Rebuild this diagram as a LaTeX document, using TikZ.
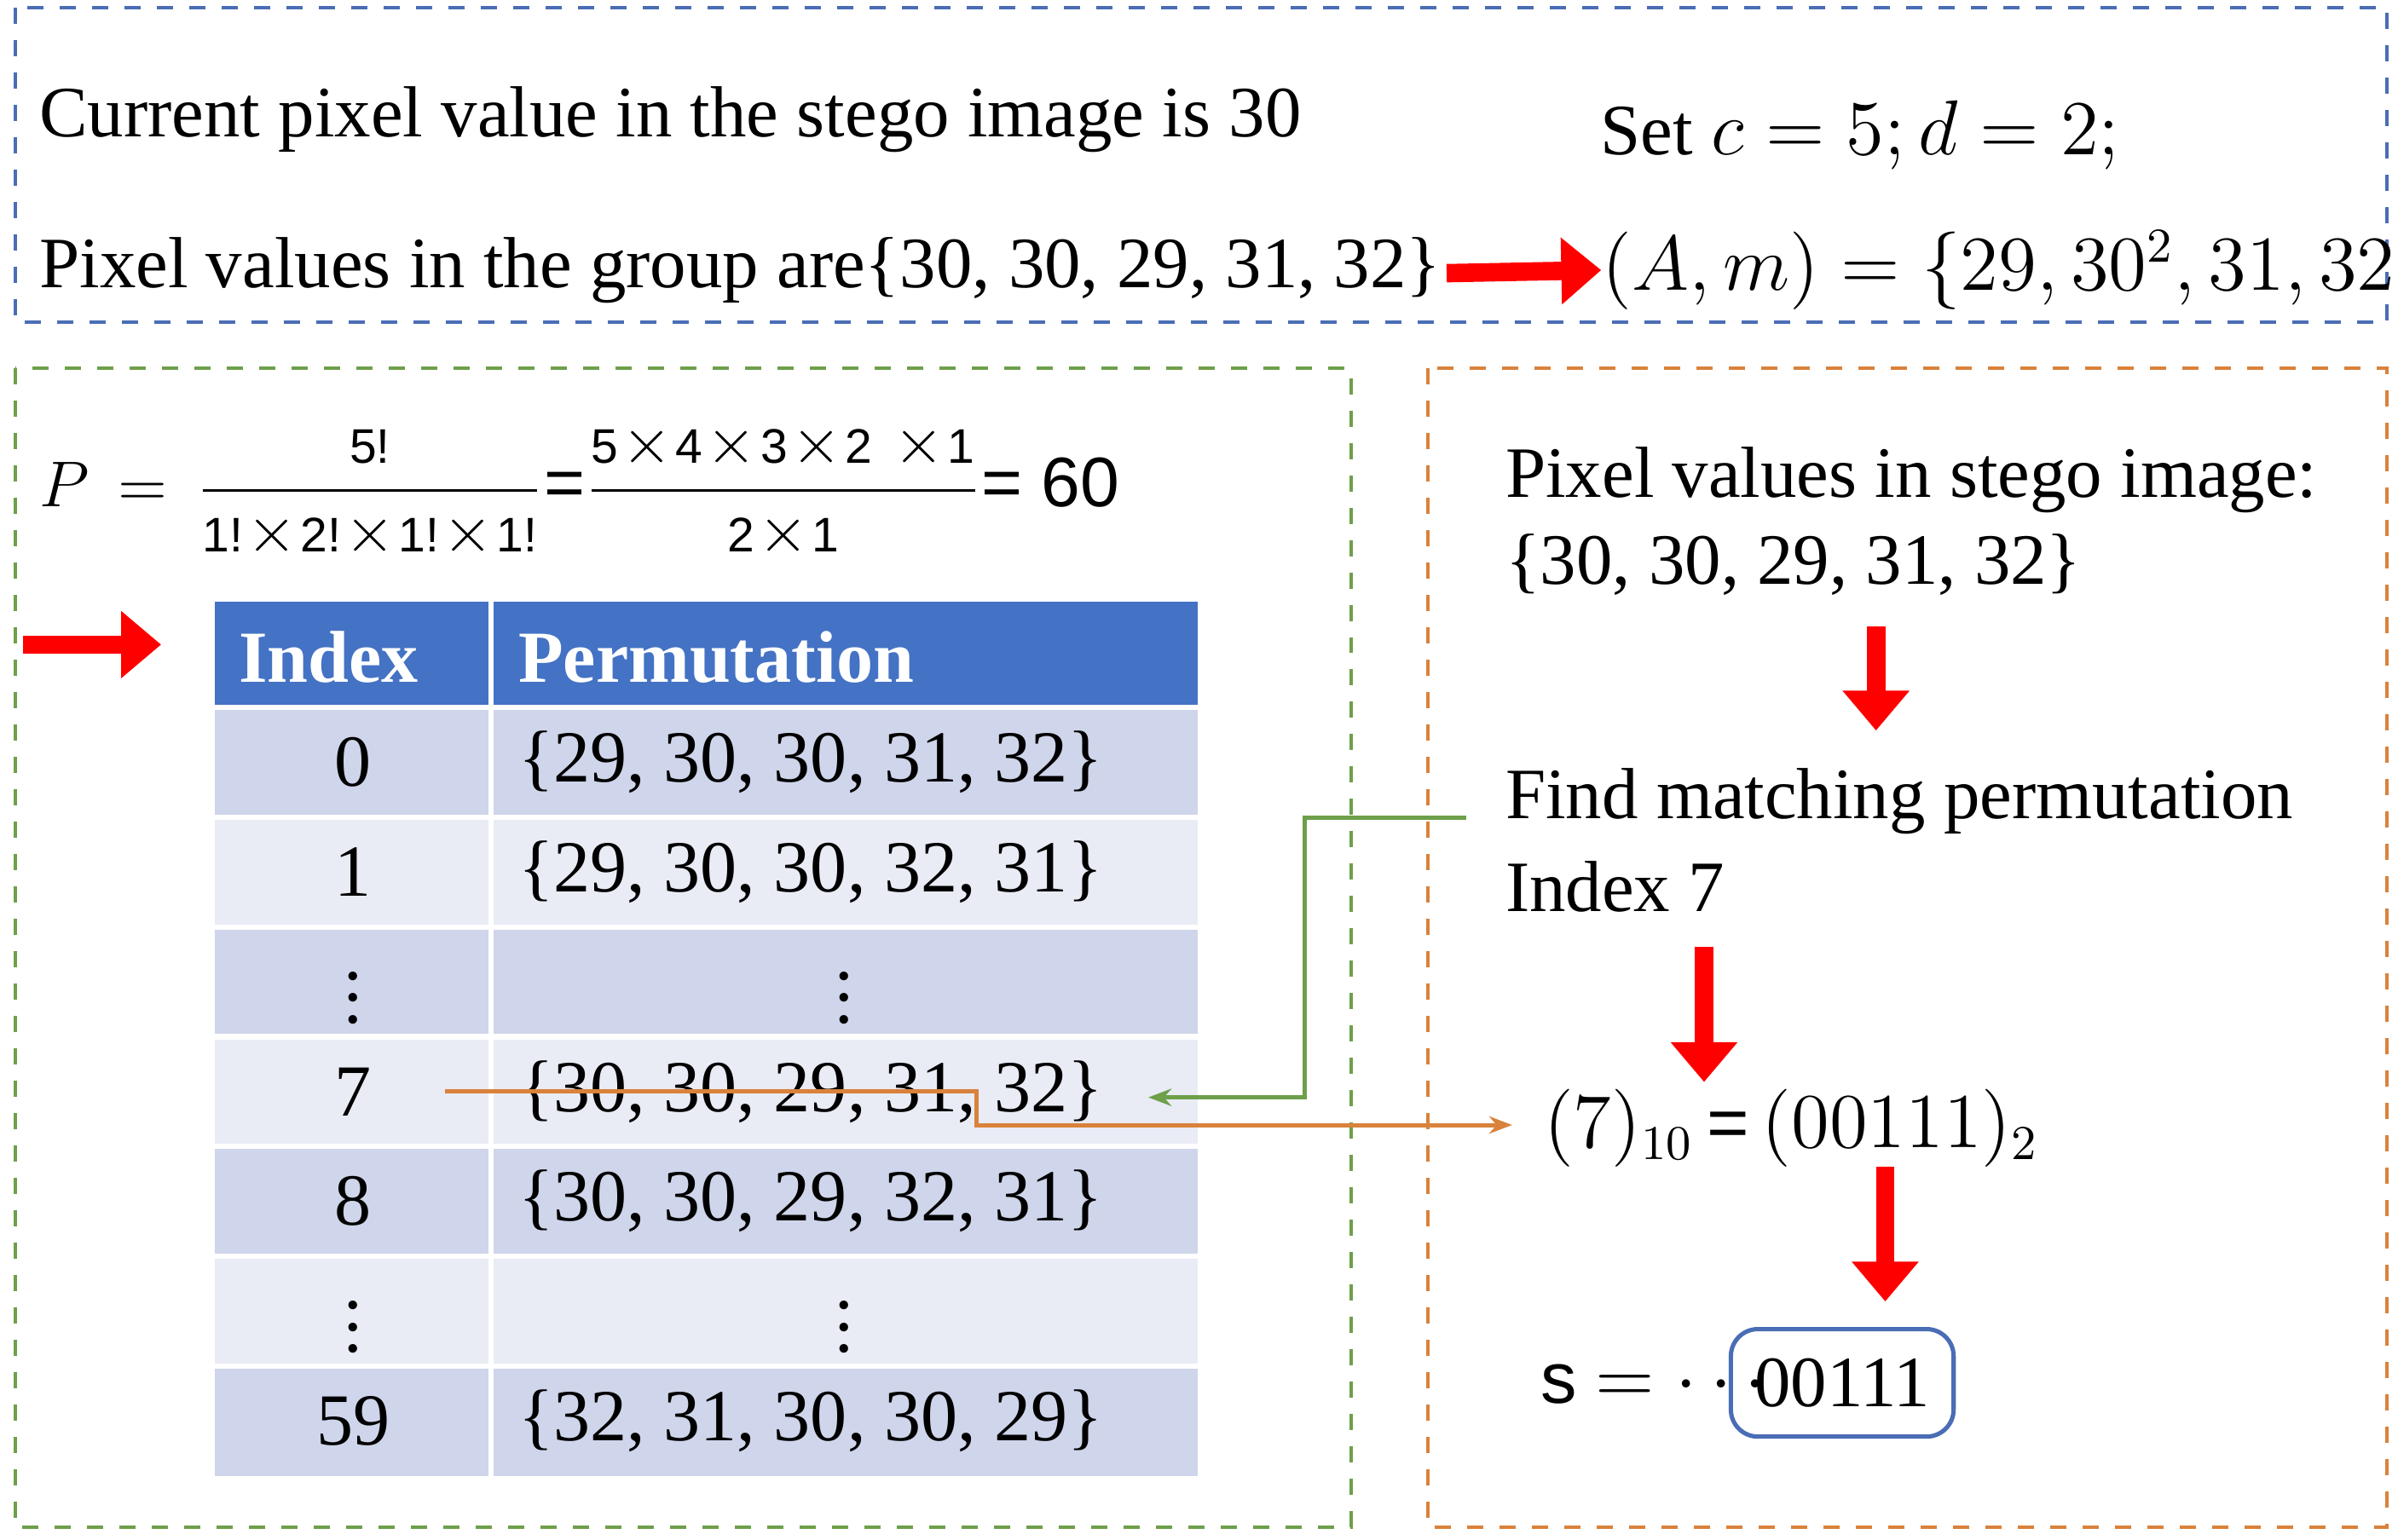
\documentclass[tikz,border=0pt]{standalone}
\usepackage{amsmath}
\usepackage{fontspec}
\setmainfont{Liberation Serif}
\setsansfont{Liberation Sans}
\usetikzlibrary{arrows.meta}
\definecolor{hdr}{HTML}{4472C4}
\definecolor{dk}{HTML}{CFD5EA}
\definecolor{lt}{HTML}{E9EBF5}
\definecolor{bbox}{HTML}{4A6DB5}
\definecolor{gbox}{HTML}{6E9F4A}
\definecolor{obox}{HTML}{D9823B}
\newcommand{\tm}{\!\times\!}
\begin{document}
\begin{tikzpicture}[x=0.01cm,y=-0.01cm,
  txt/.style={anchor=west,inner sep=0,font=\fontsize{13.4}{15}\selectfont},
  redarr/.style={red,line width=0.12cm,-{Triangle[length=0.26cm,width=0.42cm]}},
  cell/.style={draw=white,line width=1pt},
  ct/.style={inner sep=0,font=\fontsize{13.6}{15}\selectfont}]
\useasboundingbox (0,0) rectangle (1562,1003);
\draw[bbox,dashed,line width=0.6pt] (10,5) rectangle (1555,210);
\draw[gbox,dashed,line width=0.6pt] (10,240) rectangle (880,995);
\draw[obox,dashed,line width=0.6pt] (930,240) rectangle (1555,995);
\node[txt] (t1) at (25,78) {Current pixel value in the stego image is 30};
\node[txt] (t2) at (1042,88) {Set $c=5;d=2;$};
\node[txt] (t3) at (25,176) {Pixel values in the group are\{30, 30, 29, 31, 32\}};
\node[txt] (t4) at (1043,176) {$(A,m)=\{29,30^2,31,32\}$};
\draw[redarr] (t3.east) ++(3,2) -- (t4.west);
\node[txt,font=\fontsize{13}{15}\selectfont] (P) at (25,320) {$P\,=\,\dfrac{\textsf{\small 5!}}{\textsf{\small 1!}\tm\textsf{\small 2!}\tm\textsf{\small 1!}\tm\textsf{\small 1!}}\textsf{=}\dfrac{\textsf{\small 5}\tm\textsf{\small 4}\tm\textsf{\small 3}\tm\textsf{\small 2}\;\tm\textsf{\small 1}}{\textsf{\small 2}\tm\textsf{\small 1}}\textsf{= 60}$};
\coordinate (a0) at (15,420);
\coordinate (a1) at (105,420);
\draw[redarr] (a0) -- (a1);
% table
\fill[hdr] (140,392) rectangle (780,460);
\draw[white,line width=1pt] (320,392) -- (320,460);
\node[ct,anchor=west,text=white,font=\bfseries\fontsize{13.6}{15}\selectfont] (h1) at (155,428) {Index};
\node[ct,anchor=west,text=white,font=\bfseries\fontsize{13.6}{15}\selectfont] (h2) at (337,428) {Permutation};
\foreach \i/\c/\idx/\perm in {0/dk/0/{\{29, 30, 30, 31, 32\}},1/lt/1/{\{29, 30, 30, 32, 31\}},2/dk/$\vdots$/$\vdots$,3/lt/7/{\{30, 30, 29, 31, 32\}},4/dk/8/{\{30, 30, 29, 32, 31\}},5/lt/$\vdots$/$\vdots$,6/dk/59/{\{32, 31, 30, 30, 29\}}}{
  \pgfmathsetmacro{\ya}{461+71.5*\i}
  \pgfmathsetmacro{\yb}{461+71.5*(\i+1)}
  \pgfmathsetmacro{\ym}{461+71.5*(\i+0.5)}
  \fill[\c] (140,\ya) rectangle (780,\yb);
  \draw[cell] (140,\ya) -- (780,\ya) (320,\ya) -- (320,\yb);
  \node[ct] (i\i) at (230,\ym) {\idx};
  \ifnum\i=2 \node[ct] (p\i) at (550,\ym) {\perm};
  \else\ifnum\i=5 \node[ct] (p\i) at (550,\ym) {\perm};
  \else \node[ct,anchor=west] (p\i) at (337,\ym) {\perm};\fi\fi
}
% right side
\node[txt] (r1) at (980,313) {Pixel values in stego image:};
\node[txt] (r2) at (980,368) {\{30, 30, 29, 31, 32\}};
\coordinate (d1a) at (1222,408); \coordinate (d1b) at (1222,476);
\draw[redarr] (d1a) -- (d1b);
\node[txt] (r3) at (980,522) {Find matching permutation};
\node[txt] (r4) at (980,578) {Index 7};
\coordinate (d2a) at (1110,617); \coordinate (d2b) at (1110,705);
\draw[redarr] (d2a) -- (d2b);
\node[txt] (r5) at (1005,735) {$(7)_{10}\,\textsf{=}\,(00111)_2$};
\coordinate (d3a) at (1228,760); \coordinate (d3b) at (1228,848);
\draw[redarr] (d3a) -- (d3b);
\node[txt] (r6) at (1003,902) {\textsf{s} $=\cdots$};
\node[draw=bbox,rounded corners=5pt,line width=0.8pt,minimum width=1.45cm,minimum height=0.7cm,inner sep=1pt,font=\fontsize{13.4}{15}\selectfont] (box) at (1200,901) {00111};
% connectors
\coordinate (g0) at (955,533);
\coordinate (g1) at (748,715);
\draw[gbox,line width=0.8pt,-{Stealth[length=0.15cm]}] (g0) -- (850,533) -- (850,715) -- (g1);
\coordinate (o0) at (290,711);
\coordinate (o1) at (985,733);
\draw[obox,line width=0.8pt,-{Stealth[length=0.15cm]}] (o0) -- (636,711) -- (636,733) -- (o1);
\end{tikzpicture}
\end{document}
